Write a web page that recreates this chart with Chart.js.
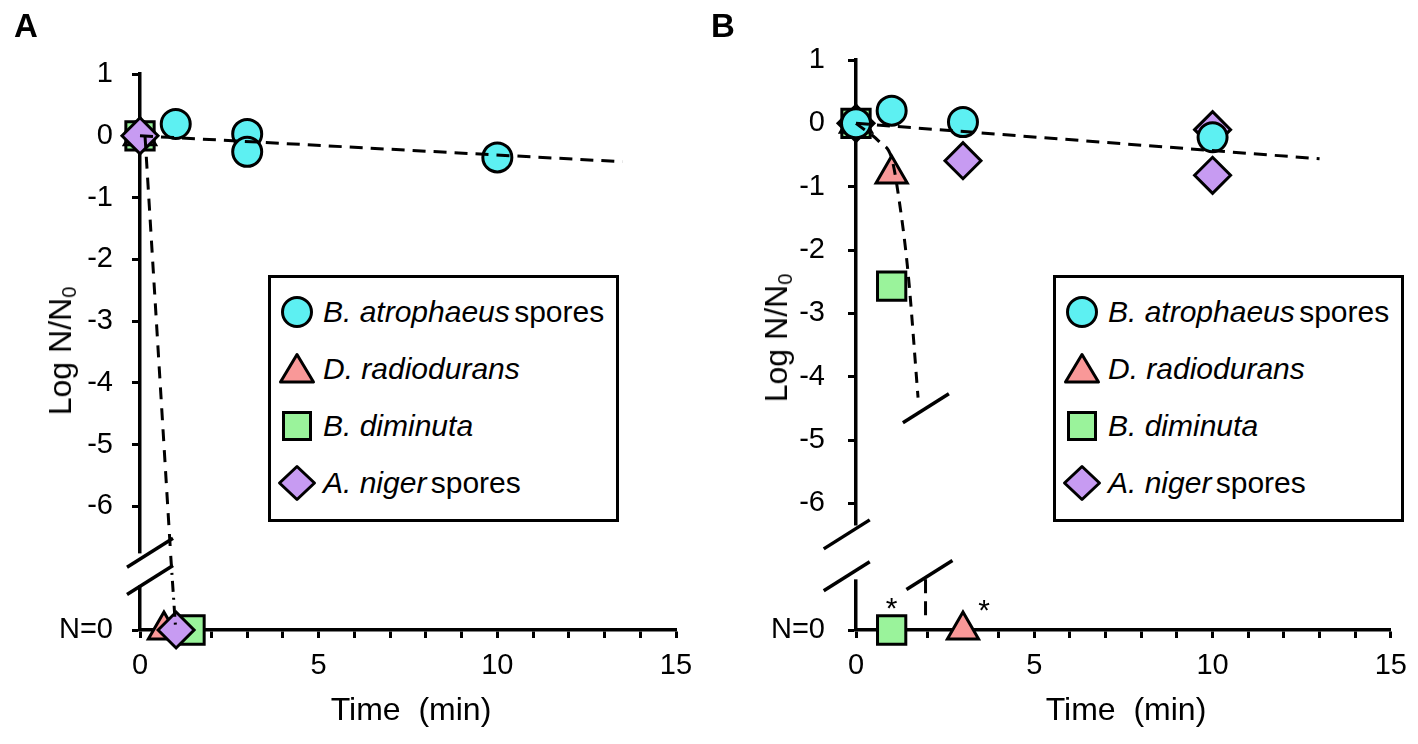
<!DOCTYPE html>
<html><head><meta charset="utf-8">
<script src="https://cdn.jsdelivr.net/npm/chart.js@4.4.0/dist/chart.umd.min.js"></script>
<style>
html,body{margin:0;padding:0;background:#fff;width:1418px;height:744px;overflow:hidden;font-family:'Liberation Sans',Arial,sans-serif;color:#000;}
canvas{position:absolute;top:0;}
.panel{position:absolute;font-weight:bold;font-size:33px;line-height:1;top:9px;}
.ytitle{position:absolute;font-size:32px;line-height:1;white-space:nowrap;transform:translate(-50%,-50%) rotate(-90deg);}
.ytitle sub{font-size:20px;line-height:0;vertical-align:-0.25em;}
.xtitle{position:absolute;font-size:32px;line-height:1;white-space:pre;transform:translate(-50%,-50%);}
.legend{position:absolute;border:3px solid #000;box-sizing:border-box;width:351px;height:247px;top:275px;background:#fff;}
.item{position:absolute;left:0;height:40px;line-height:40px;font-size:30px;white-space:nowrap;}
.item svg{position:absolute;left:6px;top:0;}
.item span{position:absolute;left:52px;top:0;}
.item i{margin-right:-4px;}
</style>
</head><body>
<canvas id="cA" width="709" height="744" style="left:0px"></canvas>
<canvas id="cB" width="709" height="744" style="left:709px"></canvas>
<div class="panel" style="left:14px">A</div>
<div class="panel" style="left:711px">B</div>
<div class="ytitle" style="left:60px;top:351px">Log N/N<sub>0</sub></div>
<div class="ytitle" style="left:776px;top:338px">Log N/N<sub>0</sub></div>
<div class="xtitle" style="left:411px;top:709px">Time  (min)</div>
<div class="xtitle" style="left:1126px;top:709px">Time  (min)</div>
<div class="legend" id="legA" style="left:268px"></div>
<div class="legend" id="legB" style="left:1053px"></div>
<script>
// ---------- Panel A data ----------
const timeCircA = [0, 1, 3, 3, 10];
const logCircA  = [0, 0.19, 0.03, -0.26, -0.35];
const timeTriA  = [0, 0.67];
const logTriA   = [0, -8];
const timeSqA   = [0, 1.4];
const logSqA    = [0, -8];
const timeDiaA  = [0, 1.01];
const logDiaA   = [0, -8];
const timeFitA  = [0, 13.5];
const logFitA   = [0, -0.42];
const timeKillA = [0.14, 0.85];
const logKillA  = [0, -6.7];
const timeKillA2 = [0.86, 1.0];
const logKillA2  = [-6.8, -8];

// ---------- Panel B data ----------
const timeCircB = [0, 1, 3, 10];
const logCircB  = [0, 0.2, 0.02, -0.22];
const timeTriB  = [0, 1, 3];
const logTriB   = [0, -0.8, -8];
const timeSqB   = [0, 1, 1];
const logSqB    = [0, -2.57, -8];
const timeDiaB  = [0, 3, 10, 10];
const logDiaB   = [0, -0.59, -0.1, -0.82];
const timeFitB  = [0, 13];
const logFitB   = [0, -0.56];
const timeCurveB = [0, 0.67, 1.0, 1.18, 1.46, 1.74];
const logCurveB  = [0, -0.3, -0.55, -1.1, -2.36, -4.33];
const timeDropB = [1.95, 1.95];
const logDropB  = [-7.2, -7.8];
const starTimeB = [1, 3];
const starLogB  = [-8, -8];

// ---------- labels ----------
const xLabelled = [0, 5, 10, 15];
const zeroLabel = 'N=0';
const seriesItalic = ['B. atrophaeus', 'D. radiodurans', 'B. diminuta', 'A. niger'];
const seriesSuffix = ['spores', '', '', 'spores'];

const FONT = "'Liberation Sans', Arial, sans-serif";
const COL = {circ:'#5DF0F2', tri:'#F99898', sq:'#9AF39B', dia:'#C79BF2'};
const pts = (xs, ys) => xs.map((x, i) => ({x, y: ys[i]}));

function markerDs(data, style, r, color, order){
  return {type:'scatter', data, pointStyle:style, pointRadius:r, pointHoverRadius:r,
    pointBackgroundColor:color, pointBorderColor:'#000', pointBorderWidth:3,
    showLine:false, clip:false, order};
}
function lineDs(data, dash, extra){
  return Object.assign({type:'line', data, borderColor:'#000', borderWidth:3, borderDash:dash,
    pointRadius:0, fill:false, showLine:true, clip:false, order:0, tension:0}, extra||{});
}

const decor = {
  id:'decor',
  afterDraw(chart, args, o){
    const ctx = chart.ctx, xs = chart.scales.x, ys = chart.scales.y, L = chart.chartArea.left;
    ctx.save();
    const g1 = ys.getPixelForValue(o.gap[0]), g2 = ys.getPixelForValue(o.gap[1]);
    ctx.fillStyle = '#fff';
    ctx.fillRect(L - 3, g1, 6, g2 - g1);
    ctx.strokeStyle = '#000'; ctx.lineWidth = 3.5;
    o.slashes.forEach(s => {
      const cx = xs.getPixelForValue(s[0]), cy = ys.getPixelForValue(s[1]);
      ctx.beginPath(); ctx.moveTo(cx - 23, cy + 14.5); ctx.lineTo(cx + 23, cy - 14.5); ctx.stroke();
    });
    if (o.stars) {
      ctx.fillStyle = '#000'; ctx.font = '30px ' + FONT; ctx.textAlign = 'center'; ctx.textBaseline = 'alphabetic';
      o.stars.x.forEach((t, i) => {
        const px = xs.getPixelForValue(t) + o.stars.dx[i], py = ys.getPixelForValue(o.stars.y[i]) + o.stars.dy[i];
        ctx.fillText('*', px, py);
      });
    }
    ctx.restore();
  }
};

function opts(p){
  return {
    responsive:false, animation:false, devicePixelRatio:1,
    layout:{autoPadding:false, padding:{left:0, right:p.right, top:p.top, bottom:0}},
    plugins:{legend:{display:false}, tooltip:{enabled:false}, decor:p.decor},
    scales:{
      x:{type:'linear', min:0, max:15,
        afterFit:s => { s.height = 744 - 630; },
        border:{display:true, color:'#000', width:3.5},
        grid:{drawOnChartArea:false, drawTicks:true, tickLength:8, tickWidth:3, color:'#000'},
        ticks:{stepSize:1, autoSkip:false, maxRotation:0, padding:11, color:'#000',
          font:{size:29, family:FONT}, callback:v => xLabelled.includes(v) ? String(v) : ''}},
      y:{type:'linear', min:-8, max:1,
        afterFit:s => { s.width = p.left; },
        border:{display:true, color:'#000', width:3.5},
        grid:{drawOnChartArea:false, drawTicks:true, tickLength:8, tickWidth:3,
          color:c => (c.tick && c.tick.value === -7) ? 'rgba(0,0,0,0)' : '#000'},
        ticks:{stepSize:1, padding:p.ypad, color:'#000', font:{size:29, family:FONT},
          callback:v => v === -8 ? zeroLabel : (v === -7 ? '' : String(v))}}
    }
  };
}

new Chart(document.getElementById('cA'), {
  type:'scatter',
  data:{datasets:[
    lineDs(pts(timeFitA, logFitA), [13, 8]),
    lineDs(pts(timeKillA, logKillA), [12, 9]),
    lineDs(pts(timeKillA2, logKillA2), [11, 6, 2, 6]),
    markerDs(pts(timeDiaA, logDiaA), 'rectRot', 18, COL.dia, 1),
    markerDs(pts(timeTriA, logTriA), 'triangle', 18, COL.tri, 2),
    markerDs(pts(timeSqA, logSqA), 'rect', 20, COL.sq, 3),
    markerDs(pts(timeCircA, logCircA), 'circle', 14.5, COL.circ, 4)
  ]},
  options:opts({left:140, right:709-676, top:74, ypad:19,
    decor:{gap:[-6.76, -7.28], slashes:[[0.28, -6.75], [0.28, -7.19]]}}),
  plugins:[decor]
});

new Chart(document.getElementById('cB'), {
  type:'scatter',
  data:{datasets:[
    lineDs(pts(timeFitB, logFitB), [13, 8]),
    lineDs(pts(timeCurveB, logCurveB), [11, 8], {cubicInterpolationMode:'monotone'}),
    lineDs(pts(timeDropB, logDropB), [14, 8]),
    markerDs(pts(timeCircB, logCircB), 'circle', 14.5, COL.circ, 1),
    markerDs(pts(timeTriB, logTriB), 'triangle', 18, COL.tri, 2),
    markerDs(pts(timeSqB, logSqB), 'rect', 20, COL.sq, 3),
    markerDs(pts(timeDiaB, logDiaB), 'rectRot', 18, COL.dia, 4)
  ]},
  options:opts({left:147, right:709-683, top:60, ypad:23,
    decor:{gap:[-6.35, -7.2], slashes:[[-0.26, -6.49], [-0.26, -7.15], [1.96, -4.5], [2.06, -7.13]],
      stars:{x:starTimeB, y:starLogB, dx:[0, 21], dy:[-12, -10]}}}),
  plugins:[decor]
});

// ---------- HTML legends ----------
const markerSvg = [
  '<circle cx="20" cy="20" r="14.5" fill="'+COL.circ+'" stroke="#000" stroke-width="3"/>',
  '<polygon points="20,5.5 36.5,33 3.5,33" fill="'+COL.tri+'" stroke="#000" stroke-width="3" stroke-linejoin="round"/>',
  '<rect x="6.5" y="6.5" width="27" height="27" fill="'+COL.sq+'" stroke="#000" stroke-width="3"/>',
  '<polygon points="20,3.5 37.5,20 20,36.5 2.5,20" fill="'+COL.dia+'" stroke="#000" stroke-width="3" stroke-linejoin="round"/>'
];
const itemCenters = [34, 91, 148, 205];
['legA', 'legB'].forEach(id => {
  const box = document.getElementById(id);
  seriesItalic.forEach((name, i) => {
    const d = document.createElement('div');
    d.className = 'item';
    d.style.top = (itemCenters[i] - 20) + 'px';
    d.innerHTML = '<svg width="40" height="40" viewBox="0 0 40 40">' + markerSvg[i] + '</svg><span><i>' + name + '</i>' +
      (seriesSuffix[i] ? ' ' + seriesSuffix[i] : '') + '</span>';
    box.appendChild(d);
  });
});
</script>
</body></html>
